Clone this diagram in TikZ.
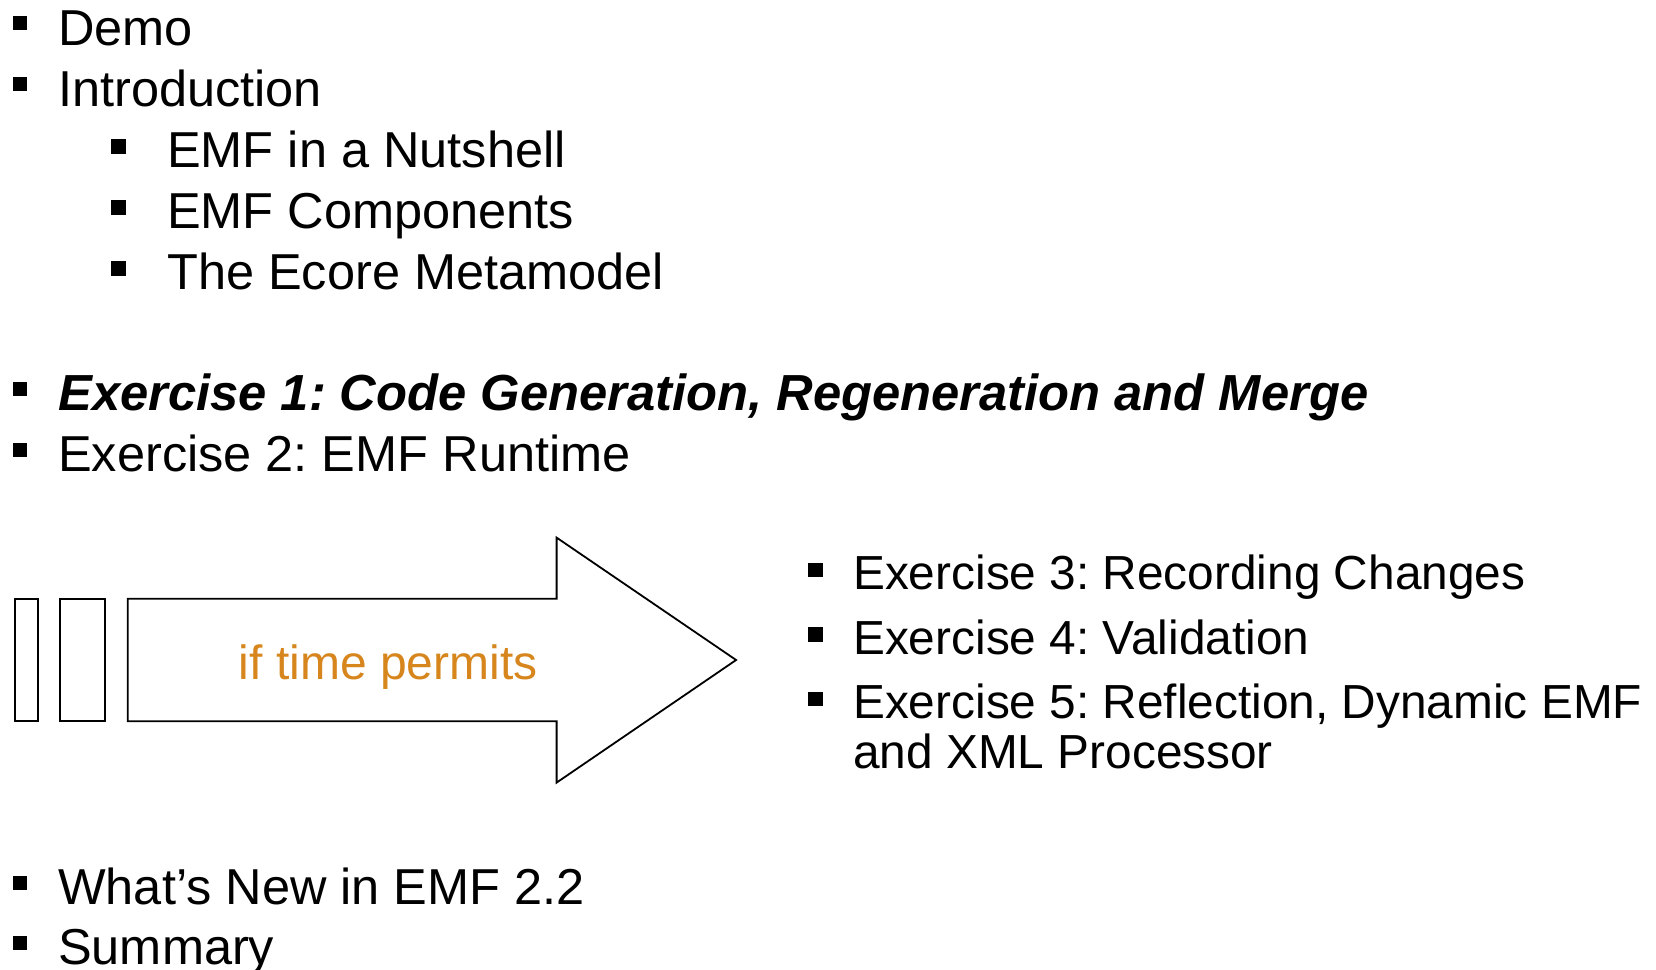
\documentclass[tikz,border=0pt]{standalone}
\usepackage{fontspec}
\setmainfont{Liberation Sans}
\frenchspacing
\definecolor{permit}{RGB}{214,134,28}
\tikzset{
  item/.style={anchor=base west, inner sep=0pt, font=\fontsize{50.5}{60}\selectfont},
  ritem/.style={item, font=\fontsize{47.8}{58}\selectfont},
  bul/.style={fill=black, draw=none, minimum size=14.5pt, inner sep=0pt, rectangle},
  outline/.style={draw=black, line width=1.8pt, line join=miter},
}
\begin{document}
\begin{tikzpicture}[x=1pt, y=-1pt]
\useasboundingbox (0,0) rectangle (1656,969);
% level 1 top
\node[bul] (b1) at (20,23) {};
\node[item] (t1) at (58,45) {Demo};
\node[bul] (b2) at (20,84) {};
\node[item] (t2) at (58,106) {Introduction};
% level 2
\node[bul] (b3) at (118.5,146.5) {};
\node[item] (t3) at (167,167) {EMF in a Nutshell};
\node[bul] (b4) at (118.5,207.5) {};
\node[item] (t4) at (167,228) {EMF Components};
\node[bul] (b5) at (118.5,268.5) {};
\node[item] (t5) at (167,289) {The Ecore Metamodel};
% exercises
\node[bul] (b6) at (20,389) {};
\node[item, font=\fontsize{50.7}{60}\selectfont\bfseries\itshape] (t6) at (58,410.5) {Exercise 1: Code Generation, Regeneration and Merge};
\node[bul] (b7) at (20,450) {};
\node[item] (t7) at (58,471.5) {Exercise 2: EMF Runtime};
% arrow
\draw[outline] (14.8,598.8) rectangle (38,721.3);
\draw[outline] (60.2,598.8) rectangle (104.6,721.3);
\draw[outline] (127.8,598.8) -- (556.6,598.8) -- (556.6,537.6) -- (736.1,660) -- (556.6,782.6) -- (556.6,721.3) -- (127.8,721.3) -- cycle;
\node[item, font=\fontsize{48}{58}\selectfont, text=permit] (tp) at (238.7,679.5) {if time permits};
% right side
\node[bul] (b8) at (815.5,570) {};
\node[ritem] (t8) at (853,589.5) {Exercise 3: Recording Changes};
\node[bul] (b9) at (815.5,634.5) {};
\node[ritem] (t9) at (853,654) {Exercise 4: Validation};
\node[bul] (b10) at (815.5,699) {};
\node[ritem] (t10) at (853,718.5) {Exercise 5: Reflection, Dynamic EMF};
\node[ritem] (t11) at (853,768) {and XML Processor};
% bottom
\node[bul] (b12) at (20,883) {};
\node[item] (t12) at (58,904.5) {What’s New in EMF 2.2};
\node[bul] (b13) at (20,943) {};
\node[item] (t13) at (58,964.5) {Summary};
\end{tikzpicture}
\end{document}
